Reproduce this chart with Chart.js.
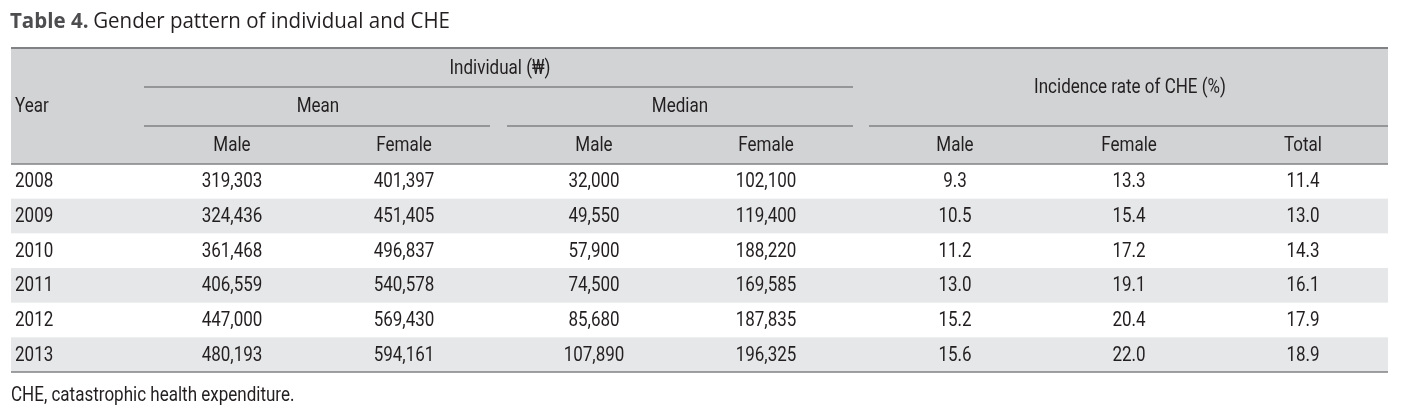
<!DOCTYPE html>
<html>
<head>
<meta charset="utf-8">
<script src="https://cdn.jsdelivr.net/npm/chart.js@4.4.1/dist/chart.umd.min.js"></script>
<style>
  html, body { margin: 0; padding: 0; background: #fff; }
  #wrap { width: 1408px; height: 415px; }
</style>
</head>
<body>
<div id="wrap"><canvas id="tbl" width="1408" height="415"></canvas></div>
<script>
// table data
const title = "Table 4.";
const subtitle = "Gender pattern of individual and CHE";
const footnote = "CHE, catastrophic health expenditure.";
const years = ["2008", "2009", "2010", "2011", "2012", "2013"];
const meanMale = [319303, 324436, 361468, 406559, 447000, 480193];
const meanFemale = [401397, 451405, 496837, 540578, 569430, 594161];
const medianMale = [32000, 49550, 57900, 74500, 85680, 107890];
const medianFemale = [102100, 119400, 188220, 169585, 187835, 196325];
const cheMale = [9.3, 10.5, 11.2, 13.0, 15.2, 15.6];
const cheFemale = [13.3, 15.4, 17.2, 19.1, 20.4, 22.0];
const cheTotal = [11.4, 13.0, 14.3, 16.1, 17.9, 18.9];

// layout (in scale units)
const colX = [232, 404, 594, 766, 955, 1129, 1303];
const left = 11, right = 1388;
const headTop = 48, line1 = 87, line2 = 126, headBottom = 164, bodyBottom = 372;
const rowH = (bodyBottom - headBottom) / years.length;

const fmtInt = v => v.toLocaleString("en-US");
const fmtPct = v => v.toFixed(1);

const columns = [
    meanMale.map(fmtInt), meanFemale.map(fmtInt),
    medianMale.map(fmtInt), medianFemale.map(fmtInt),
    cheMale.map(fmtPct), cheFemale.map(fmtPct), cheTotal.map(fmtPct)
];

const SQUEEZE = 0.83;
const cellFont = "20.5px Roboto";
const textColor = "#231f20";

function drawText(ctx, txt, x, y, align) {
    ctx.save();
    ctx.font = cellFont;
    ctx.fillStyle = textColor;
    ctx.textBaseline = "middle";
    const w = ctx.measureText(txt).width * SQUEEZE;
    let x0 = x;
    if (align === "center") x0 = x - w / 2;
    else if (align === "right") x0 = x - w;
    ctx.translate(x0, y);
    ctx.scale(SQUEEZE, 1);
    ctx.textAlign = "left";
    ctx.fillText(txt, 0, 0);
    ctx.restore();
}

function hLine(ctx, xs, x1, x2, y, width, color) {
    ctx.save();
    ctx.strokeStyle = color;
    ctx.lineWidth = width;
    ctx.beginPath();
    ctx.moveTo(xs.getPixelForValue(x1), y);
    ctx.lineTo(xs.getPixelForValue(x2), y);
    ctx.stroke();
    ctx.restore();
}

const tablePlugin = {
    id: "tablePlugin",
    afterDraw(chart) {
        const ctx = chart.ctx;
        const xs = chart.scales.x;
        const ys = chart.scales.y;
        const X = v => xs.getPixelForValue(v);
        const Y = v => ys.getPixelForValue(v);

        // title, fitted to the reference width
        ctx.save();
        ctx.textBaseline = "alphabetic";
        const boldF = "bold 22px 'Open Sans'", regF = "22px 'Open Sans'";
        ctx.font = boldF;
        const tw = ctx.measureText(title).width;
        ctx.font = regF;
        const sw = ctx.measureText(subtitle).width;
        const k = (X(450) - X(10)) / (tw + 5 + sw);
        ctx.translate(X(10), Y(28));
        ctx.scale(k, 1);
        ctx.font = boldF;
        ctx.fillStyle = "#4d4d4f";
        ctx.fillText(title, 0, 0);
        ctx.font = regF;
        ctx.fillStyle = textColor;
        ctx.fillText(subtitle, tw + 5, 0);
        ctx.restore();

        // header background
        ctx.fillStyle = "#d1d3d4";
        ctx.fillRect(X(left), Y(headTop), X(right) - X(left), Y(headBottom) - Y(headTop));

        // striped rows
        years.forEach((yr, i) => {
            if (i % 2 === 1) {
                ctx.fillStyle = "#e6e7e8";
                const t = Y(headBottom + i * rowH), b = Y(headBottom + (i + 1) * rowH);
                ctx.fillRect(X(left), t, X(right) - X(left), b - t);
            }
        });

        // rules
        const lc = "#808285";
        hLine(ctx, xs, left, right, Y(headTop), 2, lc);
        hLine(ctx, xs, 144, 853, Y(line1), 1.5, lc);
        hLine(ctx, xs, 144, 490, Y(line2), 1.5, lc);
        hLine(ctx, xs, 507, 853, Y(line2), 1.5, lc);
        hLine(ctx, xs, 869, right, Y(line2), 1.5, lc);
        hLine(ctx, xs, left, right, Y(headBottom), 1.5, lc);
        hLine(ctx, xs, left, right, Y(bodyBottom), 1.5, lc);

        // header text
        drawText(ctx, "Year", X(15), Y(107), "left");
        drawText(ctx, "Individual (\u20a9)", X(500), Y(69), "center");
        drawText(ctx, "Mean", X(318), Y(107), "center");
        drawText(ctx, "Median", X(680), Y(107), "center");
        drawText(ctx, "Incidence rate of CHE (%)", X(1130), Y(88), "center");
        const sub = ["Male", "Female", "Male", "Female", "Male", "Female", "Total"];
        sub.forEach((s, c) => drawText(ctx, s, X(colX[c]), Y(146), "center"));

        // body
        years.forEach((yr, i) => {
            const cy = Y(headBottom + (i + 0.5) * rowH + 1);
            drawText(ctx, yr, X(15), cy, "left");
            columns.forEach((col, c) => drawText(ctx, col[i], X(colX[c]), cy, "center"));
        });

        // footnote
        drawText(ctx, footnote, X(11), Y(396), "left");
    }
};

new Chart(document.getElementById("tbl"), {
    type: "scatter",
    data: { datasets: [{ data: [] }] },
    options: {
        responsive: false,
        animation: false,
        events: [],
        layout: { padding: 0 },
        plugins: { legend: { display: false }, tooltip: { enabled: false } },
        scales: {
            x: { type: "linear", min: 0, max: 1408, display: false },
            y: { type: "linear", min: 0, max: 415, reverse: true, display: false }
        }
    },
    plugins: [tablePlugin]
});
</script>
</body>
</html>
